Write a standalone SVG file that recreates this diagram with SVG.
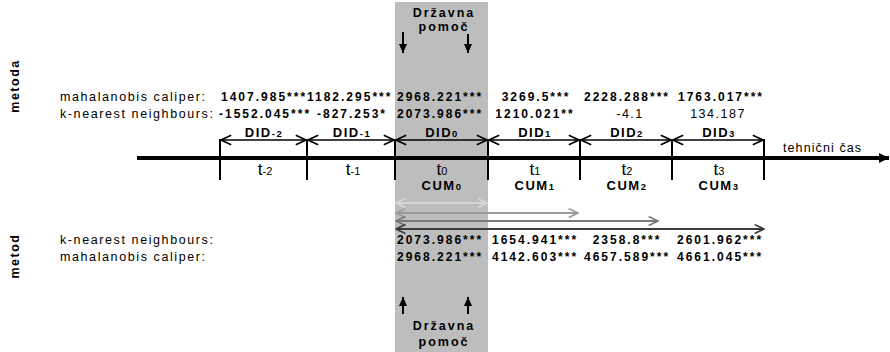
<svg xmlns="http://www.w3.org/2000/svg" width="890" height="352" viewBox="0 0 890 352">
<style>
text{font-family:"Liberation Sans",Arial,sans-serif;fill:#000}
.lbl{font-size:12.5px;letter-spacing:1.6px}
.val{font-size:12px;font-weight:bold;letter-spacing:2px}
.reg{font-size:12.5px;letter-spacing:1.5px}
.did{font-size:13px;font-weight:bold;letter-spacing:1.5px;text-anchor:middle}
.sub{font-size:9.5px}
.t{font-size:17px;text-anchor:middle}
.tsub{font-size:11px}
.dp{font-size:12.5px;font-weight:bold;letter-spacing:2px;text-anchor:middle}
.side{font-size:12.5px;font-weight:bold;letter-spacing:1.5px;text-anchor:middle}
.mid{text-anchor:middle}
.tick{stroke:#000;stroke-width:2}
.dl{stroke:#000;stroke-width:1.6;fill:none}
</style>
<defs>
<marker id="open" viewBox="0 0 10 10" refX="9.5" refY="5" markerWidth="12" markerHeight="12" markerUnits="userSpaceOnUse" orient="auto-start-reverse">
<path d="M1,1 L9.5,5 L1,9" fill="none" stroke="#000" stroke-width="1.4"/>
</marker>
<marker id="openG1" viewBox="0 0 10 10" refX="9.5" refY="5" markerWidth="11" markerHeight="11" markerUnits="userSpaceOnUse" orient="auto-start-reverse">
<path d="M1,1 L9.5,5 L1,9" fill="none" stroke="#d6d6d6" stroke-width="1.5"/>
</marker>
<marker id="openG2" viewBox="0 0 10 10" refX="9.5" refY="5" markerWidth="11" markerHeight="11" markerUnits="userSpaceOnUse" orient="auto-start-reverse">
<path d="M1,1 L9.5,5 L1,9" fill="none" stroke="#9a9a9a" stroke-width="1.5"/>
</marker>
<marker id="openG3" viewBox="0 0 10 10" refX="9.5" refY="5" markerWidth="11" markerHeight="11" markerUnits="userSpaceOnUse" orient="auto-start-reverse">
<path d="M1,1 L9.5,5 L1,9" fill="none" stroke="#7a7a7a" stroke-width="1.5"/>
</marker>
<marker id="openG4" viewBox="0 0 10 10" refX="9.5" refY="5" markerWidth="11" markerHeight="11" markerUnits="userSpaceOnUse" orient="auto-start-reverse">
<path d="M1,1 L9.5,5 L1,9" fill="none" stroke="#3c3c3c" stroke-width="1.5"/>
</marker>
<marker id="fill" viewBox="0 0 10 10" refX="10" refY="5" markerWidth="9" markerHeight="9" markerUnits="userSpaceOnUse" orient="auto">
<path d="M0,0.5 L10,5 L0,9.5 Z" fill="#000"/>
</marker>
<marker id="axisHead" viewBox="0 0 10 10" refX="10" refY="5" markerWidth="11" markerHeight="10" markerUnits="userSpaceOnUse" orient="auto">
<path d="M0,0 L10,5 L0,10 Z" fill="#000"/>
</marker>
</defs>

<g id="treatment-band">
<rect x="395" y="2" width="93" height="350" fill="#bdbdbd"/>
</g>

<g id="drzavna-pomoc-top">
<text class="dp" x="444" y="17">Državna</text>
<text class="dp" x="444" y="31">pomoč</text>
</g>
<g id="drzavna-pomoc-bottom">
<text class="dp" x="444" y="330">Državna</text>
<text class="dp" x="444" y="346">pomoč</text>
</g>

<g id="side-labels">
<text class="side" transform="translate(19,86) rotate(-90)">metoda</text>
<text class="side" transform="translate(19,256) rotate(-90)">metod</text>
</g>

<g id="connectors">
<line x1="137" y1="158" x2="889" y2="158" stroke="#000" stroke-width="4" marker-end="url(#axisHead)"/>
<line class="tick" x1="220" y1="139" x2="220" y2="180"/>
<line class="tick" x1="307" y1="139" x2="307" y2="180"/>
<line class="tick" x1="395" y1="139" x2="395" y2="180"/>
<line class="tick" x1="488" y1="139" x2="488" y2="180"/>
<line class="tick" x1="580" y1="139" x2="580" y2="180"/>
<line class="tick" x1="672" y1="139" x2="672" y2="180"/>
<line class="tick" x1="764" y1="139" x2="764" y2="180"/>
<line class="dl" x1="221" y1="140" x2="306" y2="140" marker-start="url(#open)" marker-end="url(#open)"/>
<line class="dl" x1="308" y1="140" x2="394" y2="140" marker-start="url(#open)" marker-end="url(#open)"/>
<line class="dl" x1="396" y1="140" x2="487" y2="140" marker-start="url(#open)" marker-end="url(#open)"/>
<line class="dl" x1="489" y1="140" x2="579" y2="140" marker-start="url(#open)" marker-end="url(#open)"/>
<line class="dl" x1="581" y1="140" x2="671" y2="140" marker-start="url(#open)" marker-end="url(#open)"/>
<line class="dl" x1="673" y1="140" x2="763" y2="140" marker-start="url(#open)" marker-end="url(#open)"/>
<line x1="396" y1="203" x2="487" y2="203" stroke="#d6d6d6" stroke-width="2" marker-start="url(#openG1)" marker-end="url(#openG1)"/>
<line x1="396" y1="213" x2="578" y2="213" stroke="#9a9a9a" stroke-width="2" marker-start="url(#openG2)" marker-end="url(#openG2)"/>
<line x1="396" y1="221" x2="658" y2="221" stroke="#7a7a7a" stroke-width="2" marker-start="url(#openG3)" marker-end="url(#openG3)"/>
<line x1="396" y1="229" x2="764" y2="229" stroke="#3c3c3c" stroke-width="2" marker-start="url(#openG4)" marker-end="url(#openG4)"/>
<line x1="403" y1="32" x2="403" y2="53" stroke="#000" stroke-width="2" marker-end="url(#fill)"/>
<line x1="468" y1="34" x2="468" y2="53" stroke="#000" stroke-width="2" marker-end="url(#fill)"/>
<line x1="403" y1="314" x2="403" y2="297" stroke="#000" stroke-width="2" marker-end="url(#fill)"/>
<line x1="468" y1="314" x2="468" y2="297" stroke="#000" stroke-width="2" marker-end="url(#fill)"/>
</g>

<g id="axis-label">
<text x="783" y="152" style="font-size:12.5px;letter-spacing:1.1px">tehnični čas</text>
</g>

<g id="did-labels">
<text class="did" x="264" y="137">DID<tspan class="sub">-2</tspan></text>
<text class="did" x="352" y="137">DID<tspan class="sub">-1</tspan></text>
<text class="did" x="442" y="137">DID<tspan class="sub">0</tspan></text>
<text class="did" x="535" y="137">DID<tspan class="sub">1</tspan></text>
<text class="did" x="627" y="137">DID<tspan class="sub">2</tspan></text>
<text class="did" x="719" y="137">DID<tspan class="sub">3</tspan></text>
</g>

<g id="period-labels">
<text class="t" x="265" y="175">t<tspan class="tsub">-2</tspan></text>
<text class="t" x="353" y="175">t<tspan class="tsub">-1</tspan></text>
<text class="t" x="442" y="175">t<tspan class="tsub">0</tspan></text>
<text class="t" x="535" y="175">t<tspan class="tsub">1</tspan></text>
<text class="t" x="627" y="175">t<tspan class="tsub">2</tspan></text>
<text class="t" x="719" y="175">t<tspan class="tsub">3</tspan></text>
</g>

<g id="cum-labels">
<text class="did" x="442" y="190">CUM<tspan class="sub">0</tspan></text>
<text class="did" x="535" y="190">CUM<tspan class="sub">1</tspan></text>
<text class="did" x="627" y="190">CUM<tspan class="sub">2</tspan></text>
<text class="did" x="719" y="190">CUM<tspan class="sub">3</tspan></text>
</g>

<g id="top-rows">
<text class="lbl" x="60" y="101">mahalanobis caliper:</text>
<text class="lbl" x="60" y="118">k-nearest neighbours:</text>
<text class="val" x="221" y="101">1407.985***</text>
<text class="val" x="307" y="101">1182.295***</text>
<text class="val" x="397" y="101">2968.221***</text>
<text class="val mid" x="536" y="101">3269.5***</text>
<text class="val mid" x="627" y="101">2228.288***</text>
<text class="val mid" x="721" y="101">1763.017***</text>
<text class="val" x="219" y="118">-1552.045***</text>
<text class="val" x="317" y="118">-827.253*</text>
<text class="val" x="397" y="118">2073.986***</text>
<text class="val mid" x="535" y="118">1210.021**</text>
<text class="reg mid" x="630" y="118">-4.1</text>
<text class="reg mid" x="718" y="118">134.187</text>
</g>

<g id="bottom-rows">
<text class="lbl" x="60" y="244">k-nearest neighbours:</text>
<text class="lbl" x="60" y="261">mahalanobis caliper:</text>
<text class="val" x="397" y="244">2073.986***</text>
<text class="val" x="492" y="244">1654.941***</text>
<text class="val mid" x="627" y="244">2358.8***</text>
<text class="val" x="677" y="244">2601.962***</text>
<text class="val" x="397" y="261">2968.221***</text>
<text class="val" x="492" y="261">4142.603***</text>
<text class="val" x="584" y="261">4657.589***</text>
<text class="val" x="677" y="261">4661.045***</text>
</g>
</svg>
